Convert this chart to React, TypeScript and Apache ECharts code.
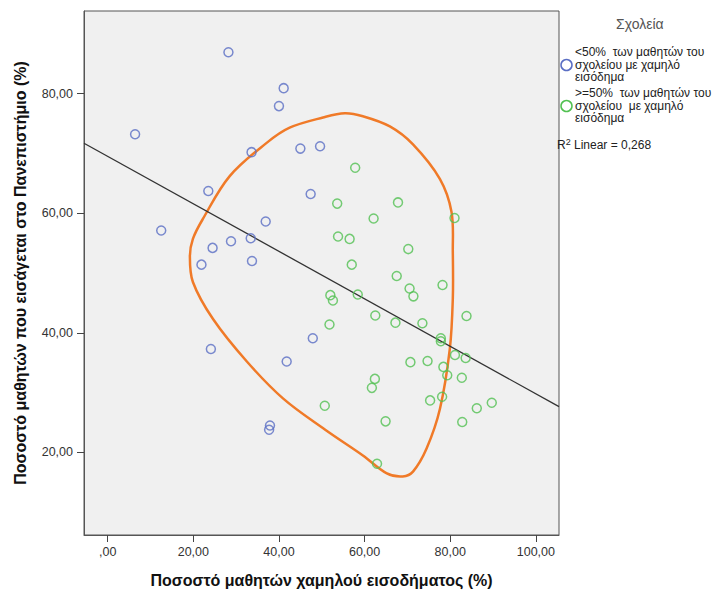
import React, { useEffect, useRef } from "react";
import * as echarts from "echarts";

// ---- Axis setup ----
const xTicks = [0, 20, 40, 60, 80, 100];
const yTicks = [20, 40, 60, 80];
const X_MIN = -5.53;
const X_MAX = 105.4;
const Y_MIN = 6.2;
const Y_MAX = 93.8;

// ---- Schools with <50% low-income students (blue) ----
const under50X = [28.2, 41.1, 40.0, 6.4, 33.6, 45.0, 49.6, 23.5, 47.4, 12.5, 36.9, 24.5, 28.8, 33.4, 21.9, 33.7, 24.1, 41.8, 47.9, 37.9, 37.7];
const under50Y = [86.9, 80.9, 77.9, 73.2, 70.2, 70.8, 71.2, 63.7, 63.2, 57.1, 58.6, 54.2, 55.3, 55.8, 51.4, 52.0, 37.3, 35.2, 39.1, 24.5, 23.8];

// ---- Schools with >=50% low-income students (green) ----
const over50X = [57.8, 53.6, 67.8, 62.1, 81.0, 53.8, 56.5, 70.2, 57.0, 67.5, 70.5, 71.4, 78.2, 52.0, 52.6, 58.4, 62.5, 83.8, 51.8, 67.2, 73.5, 77.8, 77.8, 81.1, 83.6, 70.7, 74.7, 78.4, 79.3, 82.7, 62.4, 61.7, 75.3, 78.1, 50.7, 86.2, 89.7, 64.9, 82.8, 62.9];
const over50Y = [67.6, 61.6, 61.8, 59.1, 59.2, 56.1, 55.7, 54.0, 51.4, 49.5, 47.4, 46.1, 48.0, 46.3, 45.4, 46.4, 42.9, 42.8, 41.4, 41.7, 41.6, 39.1, 38.6, 36.3, 35.8, 35.1, 35.3, 34.3, 32.9, 32.5, 32.3, 30.8, 28.7, 29.3, 27.8, 27.4, 28.3, 25.2, 25.1, 18.1];

// ---- Linear fit (total) ----
const fitIntercept = 69.5;
const fitSlope = -0.397;
const rSquared = "0,268";

// ---- Hand-drawn orange outline (data coordinates) ----
const outlineX = [42.5, 50.3, 55.4, 59.6, 65.9, 71.3, 77.6, 80.3, 80.6, 80.6, 79.9, 77.6, 74.5, 71.3, 68.9, 65.2, 59.6, 50.8, 41.0, 32.5, 24.6, 19.9, 19.2, 19.9, 22.2, 28.5, 37.2];
const outlineY = [74.3, 76.0, 76.7, 76.2, 74.5, 71.5, 65.7, 60.2, 53.5, 45.7, 37.3, 27.3, 20.7, 16.8, 16.0, 16.5, 19.5, 23.8, 29.0, 35.2, 42.3, 48.5, 52.8, 55.7, 59.0, 66.2, 71.8];

const legendTitle = "Σχολεία";
const legendUnder50 = ["<50%  των μαθητών του", "σχολείου με χαμηλό", "εισόδημα"];
const legendOver50 = [">=50%  των μαθητών του", "σχολείου  με χαμηλό", "εισόδημα"];
const xTitle = "Ποσοστό μαθητών χαμηλού εισοδήματος (%)";
const yTitle = "Ποσοστό μαθητών που εισάγεται στο Πανεπιστήμιο (%)";

const BLUE = "#5a6ec4";
const GREEN = "#52c152";
const ORANGE = "#f07a28";
const FONT = "'Liberation Sans', Arial, sans-serif";

const fmt = (v: number) => (v === 0 ? ",00" : v.toFixed(2).replace(".", ","));

export default function App() {
  const ref = useRef<HTMLDivElement>(null);
  useEffect(() => {
    if (!ref.current) return;
    const chart = echarts.init(ref.current, null, { renderer: "svg" });
    const under = under50X.map((x, i) => [x, under50Y[i]]);
    const over = over50X.map((x, i) => [x, over50Y[i]]);
    const fit = [
      [X_MIN, fitIntercept + fitSlope * X_MIN],
      [X_MAX, fitIntercept + fitSlope * X_MAX],
    ];
    const markerStyle = (c: string) => ({ color: "rgba(0,0,0,0)", borderColor: c, borderWidth: 1.5 });
    const legendBlock = (lines: string[], top: number) => ({
      type: "text",
      left: 575,
      top,
      style: { fontFamily: FONT, fontSize: 12, fill: "#222", text: lines.join("\n"), lineHeight: 12.5 },
    });

    chart.setOption({
      animation: false,
      textStyle: { fontFamily: FONT },
      grid: {
        left: 84,
        right: 164,
        top: 11,
        bottom: 56,
        show: true,
        backgroundColor: "#f0f0f0",
        borderColor: "#555",
        borderWidth: 1,
      },
      xAxis: {
        type: "value",
        min: X_MIN,
        max: X_MAX,
        name: xTitle,
        nameLocation: "middle",
        nameGap: 37,
        nameTextStyle: { fontSize: 16, fontWeight: "bold", color: "#111", fontFamily: FONT },
        axisLine: { onZero: false, lineStyle: { color: "#555", width: 1 } },
        axisTick: { show: true, length: 7, customValues: xTicks, lineStyle: { color: "#444" } },
        axisLabel: { customValues: xTicks, formatter: fmt, fontSize: 12.5, color: "#333", margin: 10, fontFamily: FONT },
        splitLine: { show: false },
      },
      yAxis: {
        type: "value",
        min: Y_MIN,
        max: Y_MAX,
        name: yTitle,
        nameLocation: "middle",
        nameGap: 56,
        nameTextStyle: { fontSize: 16, fontWeight: "bold", color: "#111", fontFamily: FONT },
        axisLine: { show: true, onZero: false, lineStyle: { color: "#555", width: 1 } },
        axisTick: { show: true, length: 7, customValues: yTicks, lineStyle: { color: "#444" } },
        axisLabel: { customValues: yTicks, formatter: fmt, fontSize: 12.5, color: "#333", margin: 11, fontFamily: FONT },
        splitLine: { show: false },
      },
      series: [
        {
          type: "custom",
          name: "outline",
          data: [[0, 0]],
          z: 1,
          silent: true,
          renderItem: (params: any, api: any) => ({
            type: "polygon",
            shape: {
              points: outlineX.map((x, i) => api.coord([x, outlineY[i]])),
              smooth: 0.35,
            },
            style: { fill: "none", stroke: ORANGE, lineWidth: 2.5 },
          }),
        },
        {
          type: "line",
          name: "fit",
          data: fit,
          symbol: "none",
          z: 2,
          lineStyle: { color: "#333", width: 1.3 },
        },
        {
          type: "scatter",
          name: legendUnder50.join(" "),
          data: under,
          symbol: "circle",
          symbolSize: 9,
          z: 3,
          itemStyle: markerStyle(BLUE),
        },
        {
          type: "scatter",
          name: legendOver50.join(" "),
          data: over,
          symbol: "circle",
          symbolSize: 9,
          z: 3,
          itemStyle: markerStyle(GREEN),
        },
      ],
      graphic: [
        {
          type: "text",
          left: 616,
          top: 17,
          style: { fontFamily: FONT, fontSize: 14, fill: "#555", text: legendTitle },
        },
        {
          type: "circle",
          shape: { cx: 566.5, cy: 65, r: 5.5 },
          style: { fill: "none", stroke: BLUE, lineWidth: 1.5 },
        },
        legendBlock(legendUnder50, 46),
        {
          type: "circle",
          shape: { cx: 566.5, cy: 106, r: 5.5 },
          style: { fill: "none", stroke: GREEN, lineWidth: 1.5 },
        },
        legendBlock(legendOver50, 87),
        {
          type: "text",
          left: 557,
          top: 137,
          style: {
            fontFamily: FONT,
            fontSize: 12,
            fill: "#222",
            text: "R{sup|2} Linear = " + rSquared,
            rich: { sup: { fontSize: 9, verticalAlign: "top", padding: [0, 0, 6, 0], fontFamily: FONT } },
          },
        },
      ],
    });
    return () => chart.dispose();
  }, []);
  return <div ref={ref} style={{ position: "absolute", left: 0, top: 0, width: 723, height: 593 }} />;
}
